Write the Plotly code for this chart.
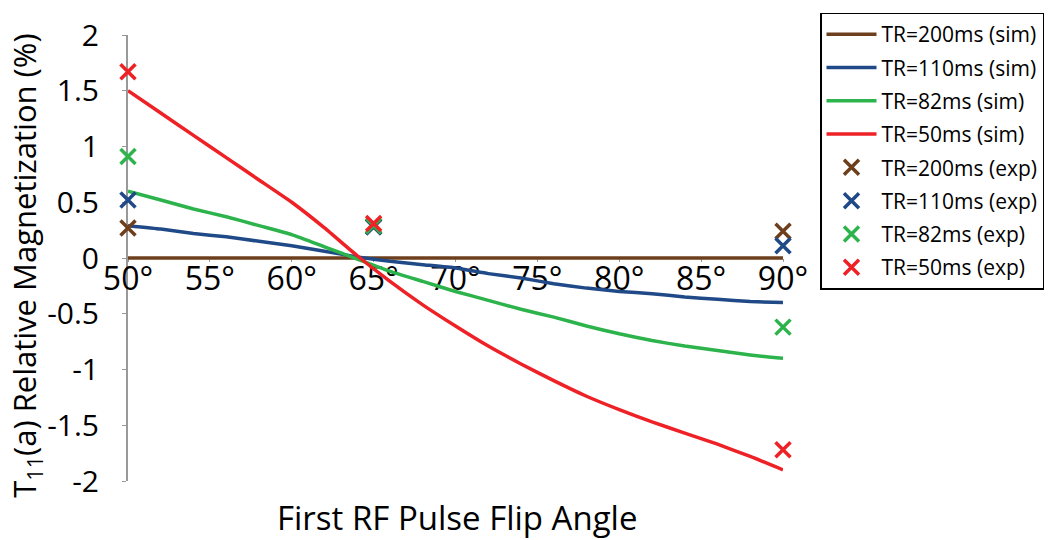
import plotly.graph_objects as go

# ---------------- data ----------------
angles_sim = [50, 52, 54, 56, 58, 60, 62, 64, 66, 68, 70, 72, 74, 76, 78, 80, 82, 84, 86, 88, 90]
sim_tr200 = [0.0] * 21
sim_tr110 = [0.29, 0.26, 0.22, 0.19, 0.15, 0.11, 0.06, 0.01, -0.03, -0.06, -0.09,
             -0.14, -0.18, -0.23, -0.27, -0.30, -0.32, -0.35, -0.37, -0.39, -0.40]
sim_tr82 = [0.60, 0.52, 0.44, 0.37, 0.29, 0.21, 0.10, -0.01, -0.12, -0.21, -0.30,
            -0.38, -0.46, -0.53, -0.61, -0.68, -0.74, -0.79, -0.83, -0.87, -0.90]
sim_tr50 = [1.50, 1.30, 1.10, 0.90, 0.70, 0.50, 0.27, 0.02, -0.21, -0.42, -0.61,
            -0.79, -0.95, -1.10, -1.24, -1.36, -1.47, -1.57, -1.67, -1.78, -1.90]

angles_exp = [50, 65, 90]
exp_tr200 = [0.27, 0.28, 0.24]
exp_tr110 = [0.52, 0.28, 0.11]
exp_tr82 = [0.91, 0.29, -0.62]
exp_tr50 = [1.67, 0.31, -1.72]

x_ticks = [50, 55, 60, 65, 70, 75, 80, 85, 90]
x_ticktext = [f"{v}°" for v in x_ticks]
y_ticks = [-2, -1.5, -1, -0.5, 0, 0.5, 1, 1.5, 2]
y_ticktext = ["-2", "-1.5", "-1", "-0.5", "0", "0.5", "1", "1.5", "2"]

names = ["TR=200ms", "TR=110ms", "TR=82ms", "TR=50ms"]
colors = ["#6e3f1c", "#1f4a87", "#2db34b", "#ee2226"]
sims = [sim_tr200, sim_tr110, sim_tr82, sim_tr50]
exps = [exp_tr200, exp_tr110, exp_tr82, exp_tr50]

FONT = "Open Sans"

fig = go.Figure()
for n, c, s in zip(names, colors, sims):
    fig.add_trace(go.Scatter(
        x=angles_sim, y=s, mode="lines", name=f"{n} (sim)",
        line=dict(color=c, width=3.5, shape="spline", smoothing=0.4),
        cliponaxis=False, legendgroup=f"{n}sim",
    ))
for n, c, e in zip(names, colors, exps):
    fig.add_trace(go.Scatter(
        x=angles_exp, y=e, mode="markers", name=f"{n} (exp)",
        marker=dict(symbol="x-thin", size=15, line=dict(color=c, width=3.5)),
        cliponaxis=False, legendgroup=f"{n}exp",
    ))

L, R, T, B = 128, 278, 25, 59
W, H = 1061, 540
ph = H - T - B
pw = W - L - R

fig.update_layout(
    width=W, height=H,
    margin=dict(l=L, r=R, t=T, b=B, pad=0),
    paper_bgcolor="white", plot_bgcolor="white",
    font=dict(family=FONT, color="black"),
    showlegend=True,
    legend=dict(
        x=(820 - L) / pw, y=1 + (T - 2) / ph, xanchor="left", yanchor="top",
        bordercolor="black", borderwidth=1.5, bgcolor="white",
        font=dict(family=FONT, size=21, color="black"),
        tracegroupgap=3, itemwidth=50, maxheight=1.0,
    ),
    xaxis=dict(
        range=[50, 90], tickmode="array", tickvals=x_ticks, ticktext=x_ticktext,
        anchor="free", position=0.5, showgrid=False, zeroline=False,
        showline=True, linecolor="#999999", linewidth=2, layer="below traces",
        ticks="outside", ticklen=3, tickcolor="#999999", tickwidth=1,
        tickfont=dict(family=FONT, size=32, color="black"),
        ticklabelstandoff=-10,
    ),
    yaxis=dict(
        range=[-2, 2], tickmode="array", tickvals=y_ticks, ticktext=y_ticktext,
        showgrid=False, zeroline=False, layer="below traces",
        showline=True, linecolor="#999999", linewidth=2,
        ticks="outside", ticklen=4, tickcolor="#999999", tickwidth=1,
        tickfont=dict(family=FONT, size=30, color="black"),
        ticklabelstandoff=17,
    ),
    annotations=[
        dict(text="First RF Pulse Flip Angle", xref="paper", yref="paper",
             x=(457 - L) / pw, y=(H - B - 518) / ph, xanchor="center", yanchor="middle",
             showarrow=False, font=dict(family=FONT, size=33, color="black")),
        dict(text="T<sub>11</sub>(a) Relative Magnetization (%)", xref="paper", yref="paper",
             x=(26 - L) / pw, y=(H - B - 261) / ph, xanchor="center", yanchor="middle",
             textangle=-90, showarrow=False, font=dict(family=FONT, size=31, color="black")),
    ],
)

fig.write_html("out.html")
